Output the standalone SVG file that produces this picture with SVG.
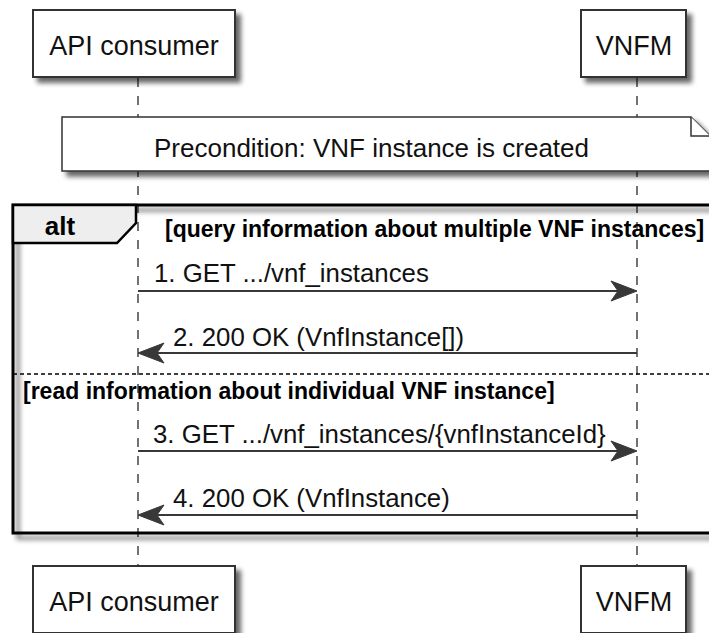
<svg xmlns="http://www.w3.org/2000/svg" width="709" height="633" viewBox="0 0 709 633">
<style>
  .box { fill: #ffffff; stroke: #333333; stroke-width: 2; }
  .ptxt { font-family: "Liberation Sans", Arial, sans-serif; font-size: 27px; fill: #111111; text-anchor: middle; }
  .note { fill: #ffffff; stroke: #333333; stroke-width: 1.5; }
  .ntxt { font-family: "Liberation Sans", Arial, sans-serif; font-size: 26px; fill: #111111; }
  .life { stroke: #444444; stroke-width: 1.5; stroke-dasharray: 9 9; fill: none; }
  .msg { stroke: #383838; stroke-width: 2; fill: none; }
  .head { fill: #383838; stroke: #383838; stroke-width: 1; }
  .mtxt { font-family: "Liberation Sans", Arial, sans-serif; font-size: 25.8px; fill: #111111; }
  .frame { fill: none; stroke: #000000; stroke-width: 3; }
  .tab { fill: #eeeeee; stroke: #000000; stroke-width: 2.5; }
  .alt { font-family: "Liberation Sans", Arial, sans-serif; font-size: 26px; font-weight: bold; fill: #000000; text-anchor: middle; }
  .guard { font-family: "Liberation Sans", Arial, sans-serif; font-size: 23px; font-weight: bold; fill: #000000; }
  .sep { stroke: #000000; stroke-width: 1.5; stroke-dasharray: 4 3; fill: none; }
</style>
<defs>
  <filter id="shadow" x="-10%" y="-10%" width="130%" height="140%">
    <feGaussianBlur in="SourceAlpha" stdDeviation="2.5"/>
    <feOffset dx="5" dy="5" result="b"/>
    <feComponentTransfer><feFuncA type="linear" slope="0.6"/></feComponentTransfer>
    <feMerge><feMergeNode/><feMergeNode in="SourceGraphic"/></feMerge>
  </filter>
  <polygon id="arrowR" points="0,0 -26,-10 -19,0 -26,10"/>
</defs>
<rect width="709" height="633" fill="#ffffff"/>

<g id="connectors">
  <line class="life" x1="138" y1="78" x2="138" y2="566"/>
  <line class="life" x1="637" y1="78" x2="637" y2="566"/>
</g>

<g id="api-consumer-top">
  <rect class="box" x="33" y="10" width="202" height="67" filter="url(#shadow)"/>
  <text class="ptxt" x="134" y="55">API consumer</text>
</g>
<g id="vnfm-top">
  <rect class="box" x="581" y="10" width="105" height="67" filter="url(#shadow)"/>
  <text class="ptxt" x="634" y="55">VNFM</text>
</g>

<g id="note-precondition">
  <path class="note" d="M62,117 L691,117 L710,136 L710,171 L62,171 Z" filter="url(#shadow)"/>
  <path class="note" d="M691,117 L691,136 L710,136"/>
  <text class="ntxt" x="154" y="157">Precondition: VNF instance is created</text>
</g>

<g id="alt-frame">
  <rect class="frame" x="13" y="205" width="700" height="328" filter="url(#shadow)"/>
  <polygon class="tab" points="13,205 136,205 136,223 117,243 13,243"/>
  <text class="alt" x="60" y="235">alt</text>
  <text class="guard" x="165" y="237">[query information about multiple VNF instances]</text>
  <line class="sep" x1="13" y1="374" x2="712" y2="374"/>
  <text class="guard" x="23" y="399">[read information about individual VNF instance]</text>
</g>

<g id="messages">
  <g id="msg1">
    <line class="msg" x1="138" y1="291" x2="632" y2="291"/>
    <use href="#arrowR" class="head" transform="translate(637,291)"/>
    <text class="mtxt" x="154" y="282">1. GET .../vnf_instances</text>
  </g>
  <g id="msg2">
    <line class="msg" x1="637" y1="353" x2="143" y2="353"/>
    <use href="#arrowR" class="head" transform="translate(138,353) scale(-1,1)"/>
    <text class="mtxt" x="173" y="346">2. 200 OK (VnfInstance[])</text>
  </g>
  <g id="msg3">
    <line class="msg" x1="138" y1="451" x2="632" y2="451"/>
    <use href="#arrowR" class="head" transform="translate(637,451)"/>
    <text class="mtxt" x="153" y="443">3. GET .../vnf_instances/{vnfInstanceId}</text>
  </g>
  <g id="msg4">
    <line class="msg" x1="637" y1="515" x2="143" y2="515"/>
    <use href="#arrowR" class="head" transform="translate(138,515) scale(-1,1)"/>
    <text class="mtxt" x="173" y="507">4. 200 OK (VnfInstance)</text>
  </g>
</g>

<g id="api-consumer-bottom">
  <rect class="box" x="33" y="566" width="202" height="67" filter="url(#shadow)"/>
  <text class="ptxt" x="134" y="611">API consumer</text>
</g>
<g id="vnfm-bottom">
  <rect class="box" x="581" y="566" width="105" height="67" filter="url(#shadow)"/>
  <text class="ptxt" x="634" y="611">VNFM</text>
</g>
</svg>
